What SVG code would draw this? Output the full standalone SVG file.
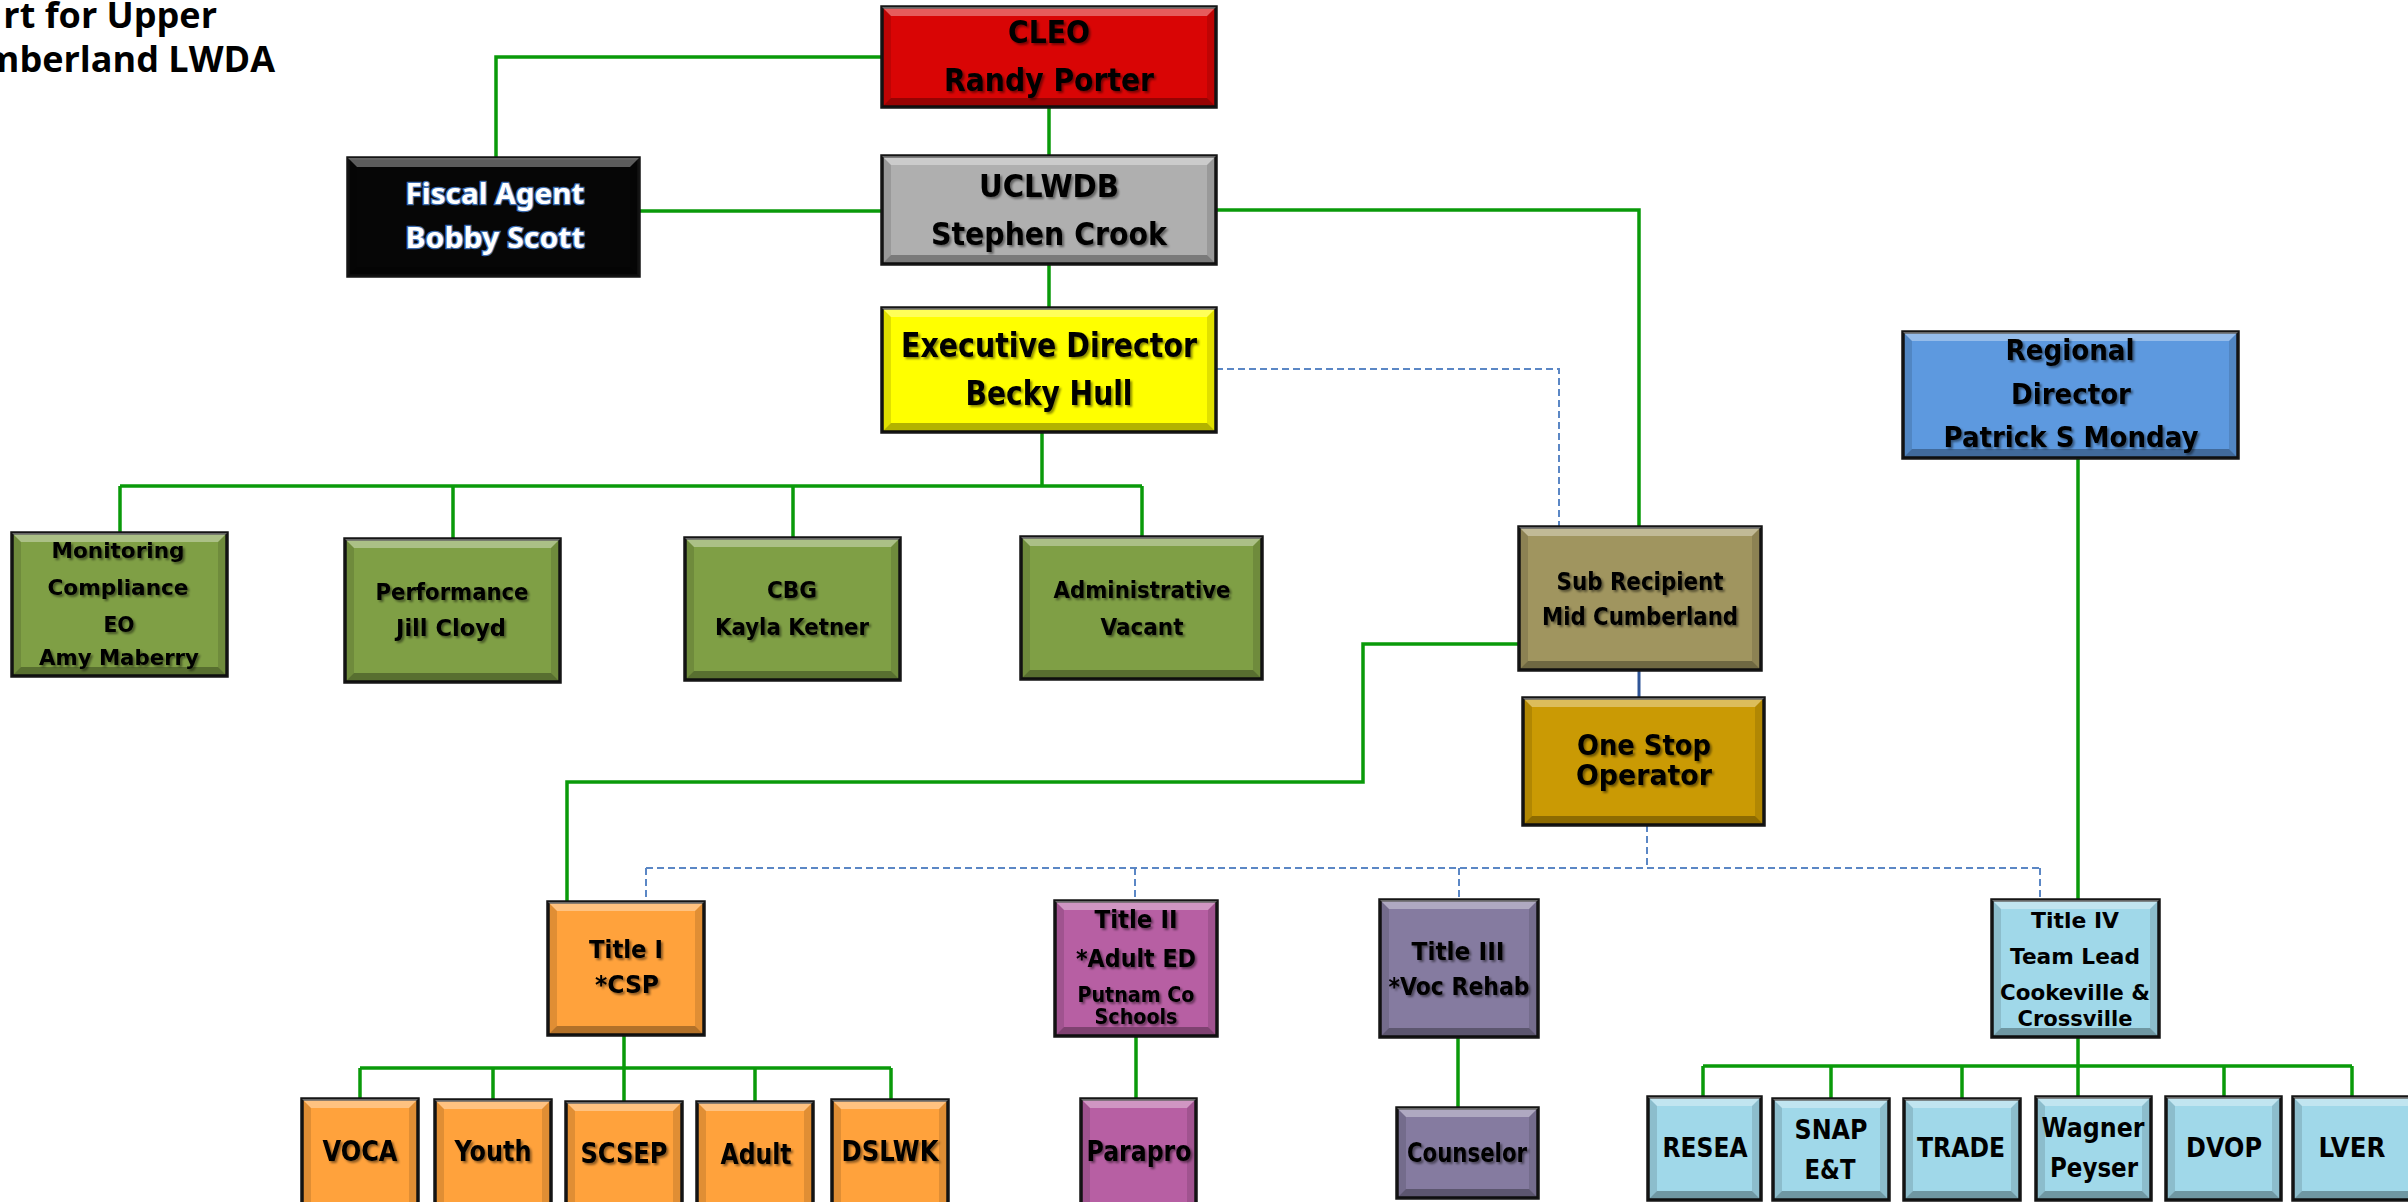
<svg xmlns="http://www.w3.org/2000/svg" width="2408" height="1202" viewBox="0 0 2408 1202">
  <defs>
    <filter id="ts" x="-10%" y="-40%" width="125%" height="190%">
      <feDropShadow dx="2" dy="2" stdDeviation="1.3" flood-color="#000" flood-opacity="0.45"/>
    </filter>
  </defs>
  <style>
    .bx{stroke:#151515;stroke-width:3.5}
    .hi{fill:#fff;opacity:.35}
    .lo{fill:#000;opacity:.3}
    .sd{fill:#000;opacity:.12}
    .red{fill:#D90505}.gry{fill:#AFAFAF}.yel{fill:#FFFF00}.blk{fill:#060606}
    .grn{fill:#7F9F45}.tan{fill:#A0955F}.gld{fill:#CA9A04}.blu{fill:#5D99DF}
    .org{fill:#FFA23C}.mag{fill:#B75FA3}.pur{fill:#857BA0}.cyn{fill:#A0D8E9}
    .t{font-family:"DejaVu Sans",Verdana,sans-serif;font-weight:bold;text-anchor:middle;fill:#000}
    .sh{filter:url(#ts)}
    .fa{font-family:"Noto Sans","Open Sans",sans-serif;font-weight:bold;text-anchor:middle;fill:#fff;stroke:#3E6DB0;stroke-width:2.5;paint-order:stroke;font-size:28px}
    .ttl{font-family:"Open Sans","Noto Sans",sans-serif;font-weight:bold;font-size:36px;text-anchor:end;fill:#000}
    .g{fill:none;stroke:#0A9A0A;stroke-width:3.5}
    .d{fill:none;stroke:#5B87C5;stroke-width:2;stroke-dasharray:7 4}
    .b{fill:none;stroke:#2F5597;stroke-width:3}
  </style>

  <!-- chart title (runs past the left edge) -->
  <g id="title">
    <text class="ttl" x="217" y="28">rt for Upper</text>
    <text class="ttl" x="275" y="72">mberland LWDA</text>
  </g>

  <!-- reporting lines -->
  <g id="connectors">
    <path class="g" d="M882,57 H496 V158"/>
    <path class="g" d="M639,211 H882"/>
    <path class="g" d="M1049,107 V156"/>
    <path class="g" d="M1049,264 V308"/>
    <path class="g" d="M1216,210 H1639 V527"/>
    <path class="g" d="M1042,432 V486"/>
    <path class="g" d="M120,486 H1142"/>
    <path class="g" d="M120,486 V533 M453,486 V539 M793,486 V538 M1142,486 V537"/>
    <path class="g" d="M1519,644 H1363 V782 H567 V902"/>
    <path class="g" d="M2078,458 V900"/>
    <path class="g" d="M624,1035 V1102 M360,1068 H891 M360,1068 V1099 M493,1068 V1100 M755,1068 V1102 M891,1068 V1100"/>
    <path class="g" d="M1136,1036 V1099"/>
    <path class="g" d="M1458,1037 V1110"/>
    <path class="g" d="M2078,1037 V1097 M1703,1066 H2352 M1703,1066 V1097 M1831,1066 V1099 M1962,1066 V1099 M2224,1066 V1097 M2352,1066 V1097"/>
    <path class="b" d="M1639,670 V698"/>
    <path class="d" d="M1216,369 H1559 V527"/>
    <path class="d" d="M1647,825 V868 M646,868 H2040 M646,868 V902 M1135,868 V901 M1459,868 V900 M2040,868 V900"/>
  </g>

  <g id="cleo">
    <rect class="bx red" x="882" y="7" width="334" height="100"/>
    <path class="hi" d="M882,7 h334 l-9,9 h-316 z"/>
    <path class="lo" d="M882,107 h334 l-9,-9 h-316 z"/>
    <path class="sd" d="M882,7 l9,9 v82 l-9,9 z m334,0 l-9,9 v82 l9,9 z"/>
    <text class="t sh" x="1049" y="43" font-size="32" textLength="82" lengthAdjust="spacingAndGlyphs">CLEO</text>
    <text class="t sh" x="1049" y="91" font-size="32" textLength="210" lengthAdjust="spacingAndGlyphs">Randy Porter</text>
  </g>

  <g id="uclwdb">
    <rect class="bx gry" x="882" y="156" width="334" height="108"/>
    <path class="hi" d="M882,156 h334 l-9,9 h-316 z"/>
    <path class="lo" d="M882,264 h334 l-9,-9 h-316 z"/>
    <path class="sd" d="M882,156 l9,9 v90 l-9,9 z m334,0 l-9,9 v90 l9,9 z"/>
    <text class="t sh" x="1049" y="197" font-size="32" textLength="140" lengthAdjust="spacingAndGlyphs">UCLWDB</text>
    <text class="t sh" x="1049" y="245" font-size="32" textLength="236" lengthAdjust="spacingAndGlyphs">Stephen Crook</text>
  </g>

  <g id="executive-director">
    <rect class="bx yel" x="882" y="308" width="334" height="124"/>
    <path class="hi" d="M882,308 h334 l-9,9 h-316 z"/>
    <path class="lo" d="M882,432 h334 l-9,-9 h-316 z"/>
    <path class="sd" d="M882,308 l9,9 v106 l-9,9 z m334,0 l-9,9 v106 l9,9 z"/>
    <text class="t sh" x="1049" y="357" font-size="33" textLength="296" lengthAdjust="spacingAndGlyphs">Executive Director</text>
    <text class="t sh" x="1049" y="405" font-size="33" textLength="167" lengthAdjust="spacingAndGlyphs">Becky Hull</text>
  </g>

  <g id="fiscal-agent">
    <rect class="bx blk" x="348" y="158" width="291" height="118"/>
    <path class="hi" d="M348,158 h291 l-9,9 h-273 z"/>
    <path class="lo" d="M348,276 h291 l-9,-9 h-273 z"/>
    <path class="sd" d="M348,158 l9,9 v100 l-9,9 z m291,0 l-9,9 v100 l9,9 z"/>
    <text class="fa" x="495" y="204" textLength="179" lengthAdjust="spacingAndGlyphs">Fiscal Agent</text>
    <text class="fa" x="495" y="248" textLength="179" lengthAdjust="spacingAndGlyphs">Bobby Scott</text>
  </g>

  <g id="monitoring">
    <rect class="bx grn" x="12" y="533" width="215" height="143"/>
    <path class="hi" d="M12,533 h215 l-9,9 h-197 z"/>
    <path class="lo" d="M12,676 h215 l-9,-9 h-197 z"/>
    <path class="sd" d="M12,533 l9,9 v125 l-9,9 z m215,0 l-9,9 v125 l9,9 z"/>
    <text class="t sh" x="118" y="558" font-size="22" textLength="133" lengthAdjust="spacingAndGlyphs">Monitoring</text>
    <text class="t sh" x="118" y="595" font-size="22" textLength="141" lengthAdjust="spacingAndGlyphs">Compliance</text>
    <text class="t sh" x="119" y="632" font-size="22" textLength="31" lengthAdjust="spacingAndGlyphs">EO</text>
    <text class="t sh" x="119" y="665" font-size="22" textLength="160" lengthAdjust="spacingAndGlyphs">Amy Maberry</text>
  </g>

  <g id="performance">
    <rect class="bx grn" x="345" y="539" width="215" height="143"/>
    <path class="hi" d="M345,539 h215 l-9,9 h-197 z"/>
    <path class="lo" d="M345,682 h215 l-9,-9 h-197 z"/>
    <path class="sd" d="M345,539 l9,9 v125 l-9,9 z m215,0 l-9,9 v125 l9,9 z"/>
    <text class="t sh" x="452" y="600" font-size="23" textLength="153" lengthAdjust="spacingAndGlyphs">Performance</text>
    <text class="t sh" x="451" y="636" font-size="23" textLength="110" lengthAdjust="spacingAndGlyphs">Jill Cloyd</text>
  </g>

  <g id="cbg">
    <rect class="bx grn" x="685" y="538" width="215" height="142"/>
    <path class="hi" d="M685,538 h215 l-9,9 h-197 z"/>
    <path class="lo" d="M685,680 h215 l-9,-9 h-197 z"/>
    <path class="sd" d="M685,538 l9,9 v124 l-9,9 z m215,0 l-9,9 v124 l9,9 z"/>
    <text class="t sh" x="792" y="598" font-size="23" textLength="50" lengthAdjust="spacingAndGlyphs">CBG</text>
    <text class="t sh" x="792" y="635" font-size="23" textLength="154" lengthAdjust="spacingAndGlyphs">Kayla Ketner</text>
  </g>

  <g id="administrative">
    <rect class="bx grn" x="1021" y="537" width="241" height="142"/>
    <path class="hi" d="M1021,537 h241 l-9,9 h-223 z"/>
    <path class="lo" d="M1021,679 h241 l-9,-9 h-223 z"/>
    <path class="sd" d="M1021,537 l9,9 v124 l-9,9 z m241,0 l-9,9 v124 l9,9 z"/>
    <text class="t sh" x="1142" y="598" font-size="23" textLength="177" lengthAdjust="spacingAndGlyphs">Administrative</text>
    <text class="t sh" x="1142" y="635" font-size="23" textLength="83" lengthAdjust="spacingAndGlyphs">Vacant</text>
  </g>

  <g id="sub-recipient">
    <rect class="bx tan" x="1519" y="527" width="242" height="143"/>
    <path class="hi" d="M1519,527 h242 l-9,9 h-224 z"/>
    <path class="lo" d="M1519,670 h242 l-9,-9 h-224 z"/>
    <path class="sd" d="M1519,527 l9,9 v125 l-9,9 z m242,0 l-9,9 v125 l9,9 z"/>
    <text class="t sh" x="1640" y="590" font-size="24" textLength="167" lengthAdjust="spacingAndGlyphs">Sub Recipient</text>
    <text class="t sh" x="1640" y="625" font-size="24" textLength="196" lengthAdjust="spacingAndGlyphs">Mid Cumberland</text>
  </g>

  <g id="one-stop-operator">
    <rect class="bx gld" x="1523" y="698" width="241" height="127"/>
    <path class="hi" d="M1523,698 h241 l-9,9 h-223 z"/>
    <path class="lo" d="M1523,825 h241 l-9,-9 h-223 z"/>
    <path class="sd" d="M1523,698 l9,9 v109 l-9,9 z m241,0 l-9,9 v109 l9,9 z"/>
    <text class="t sh" x="1644" y="755" font-size="28" textLength="134" lengthAdjust="spacingAndGlyphs">One Stop</text>
    <text class="t sh" x="1644" y="785" font-size="28" textLength="136" lengthAdjust="spacingAndGlyphs">Operator</text>
  </g>

  <g id="regional-director">
    <rect class="bx blu" x="1903" y="332" width="335" height="126"/>
    <path class="hi" d="M1903,332 h335 l-9,9 h-317 z"/>
    <path class="lo" d="M1903,458 h335 l-9,-9 h-317 z"/>
    <path class="sd" d="M1903,332 l9,9 v108 l-9,9 z m335,0 l-9,9 v108 l9,9 z"/>
    <text class="t sh" x="2070" y="360" font-size="28" textLength="129" lengthAdjust="spacingAndGlyphs">Regional</text>
    <text class="t sh" x="2071" y="404" font-size="28" textLength="120" lengthAdjust="spacingAndGlyphs">Director</text>
    <text class="t sh" x="2071" y="447" font-size="28" textLength="255" lengthAdjust="spacingAndGlyphs">Patrick S Monday</text>
  </g>

  <g id="title-i">
    <rect class="bx org" x="548" y="902" width="156" height="133"/>
    <path class="hi" d="M548,902 h156 l-9,9 h-138 z"/>
    <path class="lo" d="M548,1035 h156 l-9,-9 h-138 z"/>
    <path class="sd" d="M548,902 l9,9 v115 l-9,9 z m156,0 l-9,9 v115 l9,9 z"/>
    <text class="t sh" x="626" y="958" font-size="25" textLength="74" lengthAdjust="spacingAndGlyphs">Title I</text>
    <text class="t sh" x="627" y="993" font-size="25" textLength="64" lengthAdjust="spacingAndGlyphs">*CSP</text>
  </g>

  <g id="title-ii">
    <rect class="bx mag" x="1055" y="901" width="162" height="135"/>
    <path class="hi" d="M1055,901 h162 l-9,9 h-144 z"/>
    <path class="lo" d="M1055,1036 h162 l-9,-9 h-144 z"/>
    <path class="sd" d="M1055,901 l9,9 v117 l-9,9 z m162,0 l-9,9 v117 l9,9 z"/>
    <text class="t sh" x="1136" y="928" font-size="25" textLength="83" lengthAdjust="spacingAndGlyphs">Title II</text>
    <text class="t sh" x="1136" y="967" font-size="25" textLength="120" lengthAdjust="spacingAndGlyphs">*Adult ED</text>
    <text class="t sh" x="1136" y="1002" font-size="21" textLength="117" lengthAdjust="spacingAndGlyphs">Putnam Co</text>
    <text class="t sh" x="1136" y="1024" font-size="21" textLength="83" lengthAdjust="spacingAndGlyphs">Schools</text>
  </g>

  <g id="title-iii">
    <rect class="bx pur" x="1380" y="900" width="158" height="137"/>
    <path class="hi" d="M1380,900 h158 l-9,9 h-140 z"/>
    <path class="lo" d="M1380,1037 h158 l-9,-9 h-140 z"/>
    <path class="sd" d="M1380,900 l9,9 v119 l-9,9 z m158,0 l-9,9 v119 l9,9 z"/>
    <text class="t sh" x="1458" y="960" font-size="25" textLength="93" lengthAdjust="spacingAndGlyphs">Title III</text>
    <text class="t sh" x="1459" y="995" font-size="25" textLength="141" lengthAdjust="spacingAndGlyphs">*Voc Rehab</text>
  </g>

  <g id="title-iv">
    <rect class="bx cyn" x="1992" y="900" width="167" height="137"/>
    <path class="hi" d="M1992,900 h167 l-9,9 h-149 z"/>
    <path class="lo" d="M1992,1037 h167 l-9,-9 h-149 z"/>
    <path class="sd" d="M1992,900 l9,9 v119 l-9,9 z m167,0 l-9,9 v119 l9,9 z"/>
    <text class="t" x="2075" y="928" font-size="22" textLength="88" lengthAdjust="spacingAndGlyphs">Title IV</text>
    <text class="t" x="2075" y="964" font-size="21" textLength="130" lengthAdjust="spacingAndGlyphs">Team Lead</text>
    <text class="t" x="2075" y="1000" font-size="21" textLength="150" lengthAdjust="spacingAndGlyphs">Cookeville &amp;</text>
    <text class="t" x="2075" y="1026" font-size="21" textLength="115" lengthAdjust="spacingAndGlyphs">Crossville</text>
  </g>

  <g id="voca">
    <rect class="bx org" x="302" y="1099" width="116" height="116"/>
    <path class="hi" d="M302,1099 h116 l-9,9 h-98 z"/>
    <path class="sd" d="M302,1099 l9,9 v98 l-9,9 z m116,0 l-9,9 v98 l9,9 z"/>
    <text class="t sh" x="360" y="1161" font-size="28" textLength="75" lengthAdjust="spacingAndGlyphs">VOCA</text>
  </g>

  <g id="youth">
    <rect class="bx org" x="435" y="1100" width="116" height="115"/>
    <path class="hi" d="M435,1100 h116 l-9,9 h-98 z"/>
    <path class="sd" d="M435,1100 l9,9 v97 l-9,9 z m116,0 l-9,9 v97 l9,9 z"/>
    <text class="t sh" x="493" y="1161" font-size="28" textLength="77" lengthAdjust="spacingAndGlyphs">Youth</text>
  </g>

  <g id="scsep">
    <rect class="bx org" x="566" y="1102" width="116" height="113"/>
    <path class="hi" d="M566,1102 h116 l-9,9 h-98 z"/>
    <path class="sd" d="M566,1102 l9,9 v95 l-9,9 z m116,0 l-9,9 v95 l9,9 z"/>
    <text class="t sh" x="624" y="1163" font-size="28" textLength="87" lengthAdjust="spacingAndGlyphs">SCSEP</text>
  </g>

  <g id="adult">
    <rect class="bx org" x="697" y="1102" width="116" height="113"/>
    <path class="hi" d="M697,1102 h116 l-9,9 h-98 z"/>
    <path class="sd" d="M697,1102 l9,9 v95 l-9,9 z m116,0 l-9,9 v95 l9,9 z"/>
    <text class="t sh" x="756" y="1164" font-size="28" textLength="71" lengthAdjust="spacingAndGlyphs">Adult</text>
  </g>

  <g id="dslwk">
    <rect class="bx org" x="832" y="1100" width="116" height="115"/>
    <path class="hi" d="M832,1100 h116 l-9,9 h-98 z"/>
    <path class="sd" d="M832,1100 l9,9 v97 l-9,9 z m116,0 l-9,9 v97 l9,9 z"/>
    <text class="t sh" x="890" y="1161" font-size="28" textLength="97" lengthAdjust="spacingAndGlyphs">DSLWK</text>
  </g>

  <g id="parapro">
    <rect class="bx mag" x="1081" y="1099" width="115" height="116"/>
    <path class="hi" d="M1081,1099 h115 l-9,9 h-97 z"/>
    <path class="sd" d="M1081,1099 l9,9 v98 l-9,9 z m115,0 l-9,9 v98 l9,9 z"/>
    <text class="t sh" x="1139" y="1161" font-size="28" textLength="105" lengthAdjust="spacingAndGlyphs">Parapro</text>
  </g>

  <g id="counselor">
    <rect class="bx pur" x="1397" y="1108" width="141" height="90"/>
    <path class="hi" d="M1397,1108 h141 l-9,9 h-123 z"/>
    <path class="lo" d="M1397,1198 h141 l-9,-9 h-123 z"/>
    <path class="sd" d="M1397,1108 l9,9 v72 l-9,9 z m141,0 l-9,9 v72 l9,9 z"/>
    <text class="t sh" x="1467" y="1162" font-size="26" textLength="120" lengthAdjust="spacingAndGlyphs">Counselor</text>
  </g>

  <g id="resea">
    <rect class="bx cyn" x="1648" y="1097" width="113" height="103"/>
    <path class="hi" d="M1648,1097 h113 l-9,9 h-95 z"/>
    <path class="lo" d="M1648,1200 h113 l-9,-9 h-95 z"/>
    <path class="sd" d="M1648,1097 l9,9 v85 l-9,9 z m113,0 l-9,9 v85 l9,9 z"/>
    <text class="t" x="1705" y="1157" font-size="26" textLength="85" lengthAdjust="spacingAndGlyphs">RESEA</text>
  </g>

  <g id="snap">
    <rect class="bx cyn" x="1773" y="1099" width="116" height="101"/>
    <path class="hi" d="M1773,1099 h116 l-9,9 h-98 z"/>
    <path class="lo" d="M1773,1200 h116 l-9,-9 h-98 z"/>
    <path class="sd" d="M1773,1099 l9,9 v83 l-9,9 z m116,0 l-9,9 v83 l9,9 z"/>
    <text class="t" x="1831" y="1139" font-size="26" textLength="73" lengthAdjust="spacingAndGlyphs">SNAP</text>
    <text class="t" x="1830" y="1179" font-size="26" textLength="51" lengthAdjust="spacingAndGlyphs">E&amp;T</text>
  </g>

  <g id="trade">
    <rect class="bx cyn" x="1904" y="1099" width="116" height="101"/>
    <path class="hi" d="M1904,1099 h116 l-9,9 h-98 z"/>
    <path class="lo" d="M1904,1200 h116 l-9,-9 h-98 z"/>
    <path class="sd" d="M1904,1099 l9,9 v83 l-9,9 z m116,0 l-9,9 v83 l9,9 z"/>
    <text class="t" x="1961" y="1157" font-size="26" textLength="88" lengthAdjust="spacingAndGlyphs">TRADE</text>
  </g>

  <g id="wagner-peyser">
    <rect class="bx cyn" x="2036" y="1097" width="115" height="103"/>
    <path class="hi" d="M2036,1097 h115 l-9,9 h-97 z"/>
    <path class="lo" d="M2036,1200 h115 l-9,-9 h-97 z"/>
    <path class="sd" d="M2036,1097 l9,9 v85 l-9,9 z m115,0 l-9,9 v85 l9,9 z"/>
    <text class="t" x="2093" y="1137" font-size="26" textLength="103" lengthAdjust="spacingAndGlyphs">Wagner</text>
    <text class="t" x="2094" y="1177" font-size="26" textLength="88" lengthAdjust="spacingAndGlyphs">Peyser</text>
  </g>

  <g id="dvop">
    <rect class="bx cyn" x="2166" y="1097" width="115" height="103"/>
    <path class="hi" d="M2166,1097 h115 l-9,9 h-97 z"/>
    <path class="lo" d="M2166,1200 h115 l-9,-9 h-97 z"/>
    <path class="sd" d="M2166,1097 l9,9 v85 l-9,9 z m115,0 l-9,9 v85 l9,9 z"/>
    <text class="t" x="2224" y="1157" font-size="26" textLength="76" lengthAdjust="spacingAndGlyphs">DVOP</text>
  </g>

  <g id="lver">
    <rect class="bx cyn" x="2293" y="1097" width="130" height="103"/>
    <path class="hi" d="M2293,1097 h130 l-9,9 h-112 z"/>
    <path class="lo" d="M2293,1200 h130 l-9,-9 h-112 z"/>
    <path class="sd" d="M2293,1097 l9,9 v85 l-9,9 z m130,0 l-9,9 v85 l9,9 z"/>
    <text class="t" x="2352" y="1157" font-size="26" textLength="67" lengthAdjust="spacingAndGlyphs">LVER</text>
  </g>
</svg>
